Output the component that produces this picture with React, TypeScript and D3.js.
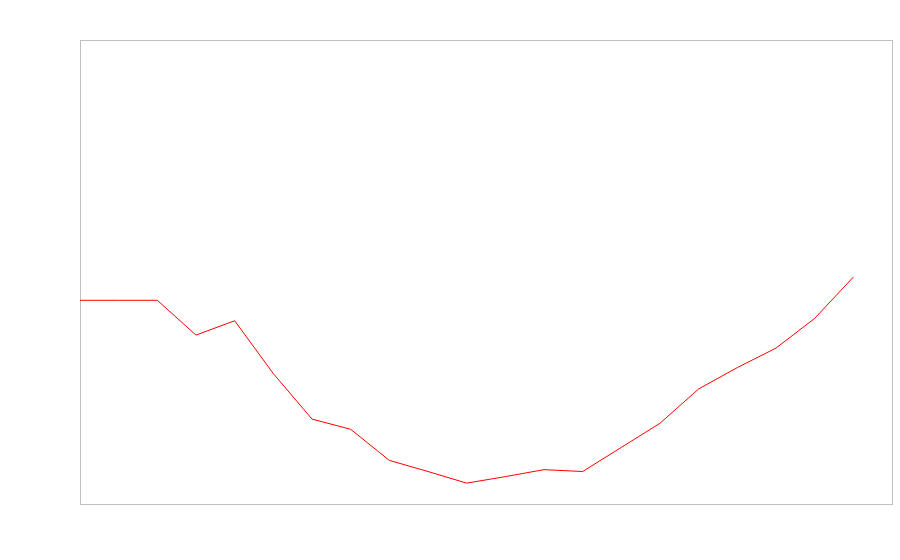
import React from "react";
import * as d3 from "d3";

const indices: number[] = [0, 1, 2, 3, 4, 5, 6, 7, 8, 9, 10, 11, 12, 13, 14, 15, 16, 17, 18, 19, 20];
const values: number[] = [43.9, 43.9, 43.9, 36.4, 39.5, 28.1, 18.3, 16.1, 9.4, 7.0, 4.5, 5.9, 7.4, 7.0, 12.2, 17.4, 24.8, 29.4, 33.6, 40.0, 48.9];

const W = 900;
const H = 560;
const M = { left: 80, right: 8, top: 40, bottom: 56 };

export default function App() {
  const x = d3.scaleLinear().domain([0, 21]).range([M.left, W - M.right]);
  const y = d3.scaleLinear().domain([0, 100]).range([H - M.bottom, M.top]);
  const line = d3
    .line<number>()
    .x((_, i) => x(indices[i]))
    .y((d) => y(d));
  return (
    <svg
      width={W}
      height={H}
      style={{ position: "absolute", left: 0, top: 0, background: "#fff" }}
    >
      <rect
        x={M.left + 0.5}
        y={M.top + 0.5}
        width={W - M.right - M.left}
        height={H - M.bottom - M.top}
        fill="none"
        stroke="#bfbfbf"
        strokeWidth={1}
      />
      <path d={line(values) || ""} fill="none" stroke="#ff0000" strokeWidth={1} />
    </svg>
  );
}
